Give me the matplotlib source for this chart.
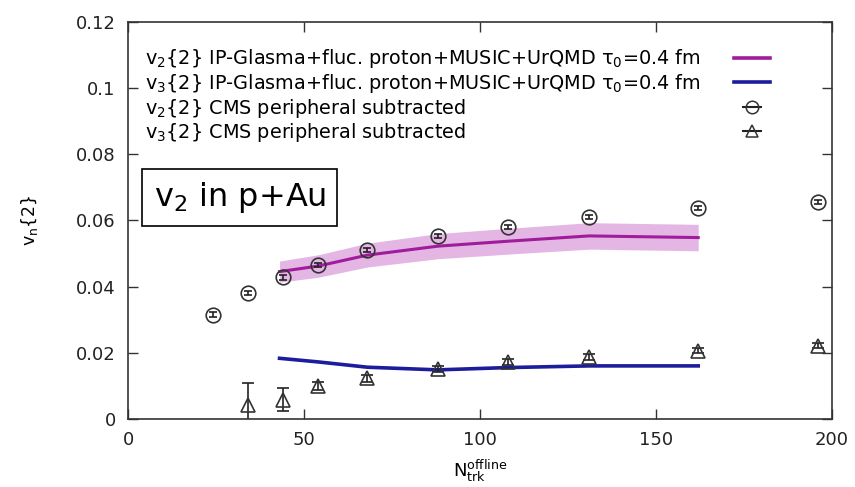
import numpy as np
import matplotlib
matplotlib.use('Agg')
from matplotlib import pyplot as plt
from matplotlib.patches import Rectangle

plt.rcParams['font.family'] = ['DejaVu Sans']
plt.rcParams['mathtext.fontset'] = 'dejavusans'
plt.rcParams['mathtext.default'] = 'regular'

# CMS data (peripheral subtracted)
cms_x = [24, 34, 44, 54, 68, 88, 108, 131, 162, 196]
cms_v2 = [0.0315, 0.0379, 0.0428, 0.0465, 0.0510, 0.0553, 0.0580, 0.0610, 0.0636, 0.0655]
cms_v2_err = [0.0008, 0.0006, 0.0008, 0.0007, 0.0007, 0.0006, 0.0006, 0.0006, 0.0006, 0.0006]
cms_v3_x = [34, 44, 54, 68, 88, 108, 131, 162, 196]
cms_v3 = [0.0042, 0.0058, 0.0098, 0.0122, 0.0152, 0.0173, 0.0188, 0.0206, 0.0221]
cms_v3_err = [0.0067, 0.0035, 0.0012, 0.0010, 0.0009, 0.0009, 0.0009, 0.0008, 0.0008]

# IP-Glasma+MUSIC+UrQMD model
model_x = [43, 54, 68, 88, 108, 131, 162]
model_v2 = [0.0445, 0.0462, 0.0495, 0.0522, 0.0537, 0.0553, 0.0548]
model_v2_err = [0.0032, 0.0034, 0.0036, 0.0038, 0.0039, 0.0040, 0.0040]
model_v3 = [0.0183, 0.0172, 0.0156, 0.0148, 0.0155, 0.0160, 0.0160]

labels = [r'v$_2${2} IP-Glasma+fluc. proton+MUSIC+UrQMD τ$_0$=0.4 fm',
          r'v$_3${2} IP-Glasma+fluc. proton+MUSIC+UrQMD τ$_0$=0.4 fm',
          r'v$_2${2} CMS peripheral subtracted',
          r'v$_3${2} CMS peripheral subtracted']

fig = plt.figure(figsize=(8.55, 4.87), dpi=100)
ax = fig.add_axes([0.150, 0.140, 0.823, 0.815])

m_v2 = np.array(model_v2)
m_err = np.array(model_v2_err)
ax.fill_between(model_x, m_v2 - m_err, m_v2 + m_err, color='#dc9edc', alpha=0.75, lw=0)
ax.plot(model_x, model_v2, color='#a01c9c', lw=2.2)
ax.plot(model_x, model_v3, color='#1c1c9c', lw=2.6)

ax.errorbar(cms_x, cms_v2, yerr=cms_v2_err, fmt='o', mfc='none', mec='#333333',
            ms=10.5, mew=1.2, ecolor='#222222', elinewidth=1.2, capsize=3)
ax.errorbar(cms_v3_x, cms_v3, yerr=cms_v3_err, fmt='^', mfc='none', mec='#333333',
            ms=10.5, mew=1.2, ecolor='#222222', elinewidth=1.2, capsize=4)

# legend: texts left aligned, handles in a column on the right
h1, = ax.plot([], [], color='#a01c9c', lw=2.6)
h2, = ax.plot([], [], color='#1c1c9c', lw=2.6)
h3 = ax.errorbar([], [], xerr=[], fmt='o', mfc='none', mec='#333333', ms=9, mew=1.1,
                 ecolor='#222222', capsize=3)
h4 = ax.errorbar([], [], xerr=[], fmt='^', mfc='none', mec='#333333', ms=9, mew=1.1,
                 ecolor='#222222', capsize=3)
blank = [Rectangle((0, 0), 0, 0, visible=False) for _ in labels]
leg_kw = dict(loc='upper left', bbox_to_anchor=(0.013, 0.955), frameon=False,
              fontsize=13.9, labelspacing=0.08, borderaxespad=0)
leg_text = ax.legend(blank, labels, handlelength=0, handletextpad=0, **leg_kw)
ax.add_artist(leg_text)
leg_marks = ax.legend([h1, h2, h3, h4], labels, markerfirst=False, handlelength=1.9,
                      handletextpad=1.7, **leg_kw)
for t in leg_marks.get_texts():
    t.set_alpha(0)

ax.text(0.036, 0.557, r'v$_2$ in p+Au', transform=ax.transAxes, fontsize=23,
        va='center', ha='left',
        bbox=dict(boxstyle='square,pad=0.35', fc='white', ec='black', lw=1.2))

ax.set_xlim(0, 200)
ax.set_ylim(0, 0.12)
ax.set_xticks([0, 50, 100, 150, 200])
ax.set_yticks([0, 0.02, 0.04, 0.06, 0.08, 0.1, 0.12])
ax.set_yticklabels(['0', '0.02', '0.04', '0.06', '0.08', '0.1', '0.12'])
ax.tick_params(direction='in', top=True, right=True, length=7, width=1,
               labelsize=13, pad=9, colors='#333333', labelcolor='#222222')
for s in ax.spines.values():
    s.set_linewidth(1.2)
    s.set_color('#333333')

ax.set_xlabel(r'N$_{trk}^{offline}$', fontsize=13, labelpad=6)
ax.set_ylabel(r'v$_n${2}', fontsize=12.5, labelpad=26)

plt.savefig('out.png', dpi=100)
